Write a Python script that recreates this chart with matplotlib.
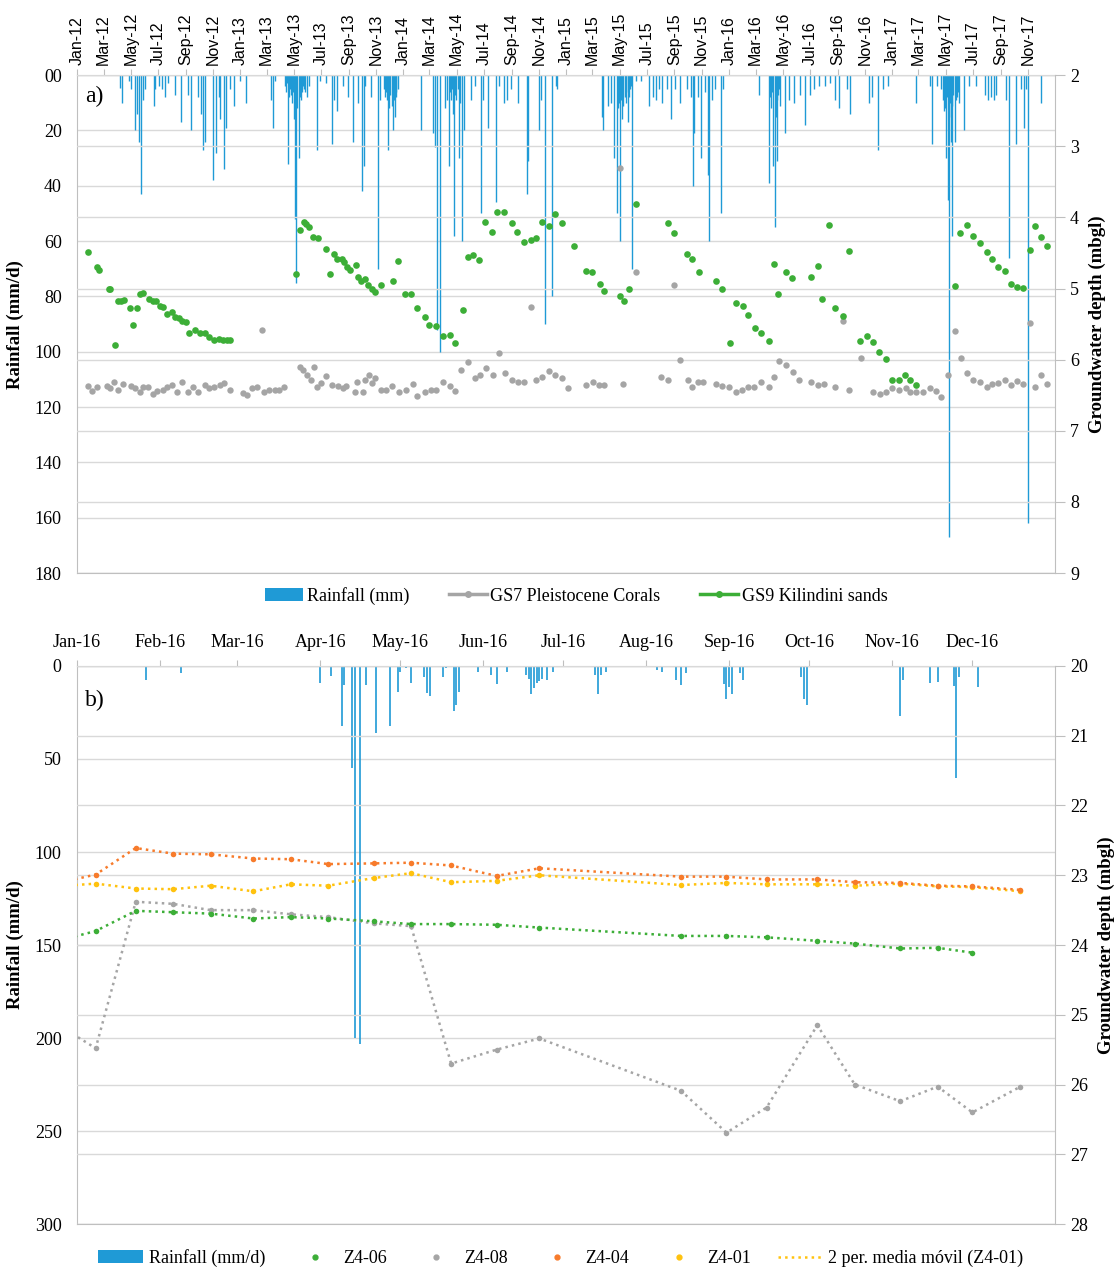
import numpy as np
import matplotlib
matplotlib.use('Agg')
import matplotlib.pyplot as plt
import matplotlib.dates as mdates
from matplotlib.lines import Line2D
from matplotlib.patches import Patch
from matplotlib.ticker import FuncFormatter, MultipleLocator
import datetime as dt

plt.rcParams['font.family'] = ['Liberation Serif', 'DejaVu Serif']

blue = '#1f9ad6'
green = '#3cae37'
grey = '#a5a5a5'
orange = '#f77b2b'
yellow = '#ffc20e'
gridc = '#d9d9d9'
spinec = '#bfbfbf'

# ---------------- panel a data (days since 2012-01-01) ----------------
rain_a_day = [96, 101, 116, 122, 130, 135, 138, 143, 148, 152, 172, 176, 183, 191, 198, 204,
              220, 233, 250, 256, 272, 278, 282, 288, 306, 312, 318, 321, 330, 334, 342, 351,
              365, 378,
              436, 440, 444, 466, 468, 470, 474, 476, 478, 480, 482, 484, 486, 489, 492, 494,
              497, 499, 502, 504, 506, 508, 511, 515, 521, 538, 544, 558, 572, 577, 582, 596,
              607, 618, 630, 638, 643, 646, 660, 674, 680, 688, 690, 693, 695, 698, 700, 702,
              705, 708, 710, 712, 714, 716, 720,
              771, 798, 803, 806, 813, 826, 829, 833, 836, 838, 840, 842, 845, 848, 850, 853,
              856, 858, 862, 868, 884, 892, 905, 909, 921, 940, 946, 958, 964, 972, 988, 1008,
              1012, 1035, 1040, 1048, 1064, 1073, 1076,
              1176, 1180, 1190, 1196, 1204, 1210, 1212, 1214, 1216, 1218, 1220, 1222, 1224,
              1228, 1230, 1234, 1236, 1238, 1240, 1242, 1245, 1252, 1265, 1282, 1290, 1298,
              1305, 1312, 1322, 1332, 1340, 1352, 1368, 1376, 1381, 1384, 1391, 1399, 1408,
              1415, 1417, 1424, 1430, 1444, 1448,
              1528, 1552, 1554, 1556, 1558, 1560, 1564, 1566, 1568, 1570, 1572, 1574, 1576,
              1586, 1596, 1608, 1620, 1632, 1644, 1652, 1664, 1676, 1688, 1700, 1708, 1726,
              1733, 1776, 1782, 1796, 1807, 1818,
              1881, 1912, 1917, 1927, 1936, 1940, 1944, 1946, 1948, 1950, 1952, 1954, 1955,
              1957, 1959, 1961, 1962, 1964, 1967, 1969, 1972, 1974, 1976, 1988, 2000, 2016,
              2036, 2042, 2048, 2056, 2060, 2082, 2089, 2104, 2116, 2122, 2127, 2132, 2161]
rain_a_mm = [4.5, 10, 2, 5, 20, 14, 24, 43, 9, 5, 11, 5, 4, 5, 8, 3,
             7, 17, 7, 20, 8, 14, 27, 24, 38, 28, 8, 16, 34, 19, 5, 11,
             2, 10,
             9, 19, 2, 4, 6, 3, 32, 8, 5, 7, 10, 6, 16, 52, 75, 12,
             30, 8, 9, 6, 4, 5, 6, 8, 4, 27, 2, 3, 25, 9, 13, 4,
             8, 24, 10, 42, 33, 4, 8, 70, 9, 5, 8, 6, 9, 27, 12, 7,
             11, 20, 9, 15, 6, 8, 5,
             20, 21, 26, 92, 100, 12, 9, 33, 6, 9, 5, 14, 58, 7, 9, 5,
             30, 10, 60, 20, 9, 4, 50, 9, 19, 46, 4, 10, 9, 5, 10, 43,
             31, 20, 9, 90, 80, 4, 5,
             15, 20, 11, 10, 30, 50, 12, 10, 6, 60, 9, 16, 11,
             8, 10, 17, 6, 8, 5, 4, 70, 2, 2, 11, 8, 9,
             5, 10, 5, 16, 5, 10, 5, 8, 40, 21, 8, 30, 6,
             36, 60, 9, 5, 50, 5,
             7, 39, 8, 12, 6, 33, 55, 15, 9, 31, 7, 5, 11,
             21, 9, 10, 7, 18, 7, 5, 4, 4, 3, 9, 12, 5,
             14, 10, 8, 27, 5, 4,
             10, 4, 25, 4, 5, 9, 13, 12, 30, 8, 45, 15, 167,
             10, 24, 11, 58, 7, 24, 9, 8, 6, 10, 20, 4, 4,
             7, 9, 8, 9, 7, 9, 66, 25, 5, 19, 5, 162, 10]

gs9_day = [24, 44, 49, 71, 75, 85, 91, 99, 105, 119, 126, 134, 141, 149, 162, 170, 178, 186,
           194, 202, 212, 220, 228, 236, 244, 252, 264, 276, 288, 296, 308, 318, 328, 336, 344,
           492, 500, 508, 514, 520, 530, 540, 558, 568, 575, 582, 593, 599, 606, 613, 625, 629,
           637, 646, 653, 661, 668, 681, 708, 720, 736, 749, 763, 779, 790, 805, 820, 836, 847,
           865, 876, 888, 900, 914, 930, 942, 958, 974, 987, 1001, 1017, 1029, 1043, 1057, 1071,
           1086, 1114, 1142, 1154, 1172, 1182, 1218, 1226, 1238, 1253, 1324, 1338, 1368, 1378,
           1394, 1432, 1446, 1464, 1476, 1492, 1504, 1520, 1532, 1550, 1562, 1572, 1588, 1602,
           1646, 1660, 1670, 1686, 1700, 1716, 1731, 1756, 1770, 1784, 1798, 1814, 1826, 1842,
           1856, 1866, 1880, 1967, 1979, 1994, 2008, 2023, 2039, 2050, 2065, 2079, 2093, 2107,
           2120, 2135, 2147, 2161, 2175]
gs9_depth = [4.49, 4.70, 4.74, 5.00, 5.00, 5.80, 5.18, 5.17, 5.16, 5.28, 5.51, 5.28, 5.08, 5.06,
             5.14, 5.18, 5.17, 5.24, 5.26, 5.36, 5.33, 5.40, 5.42, 5.45, 5.47, 5.63, 5.58, 5.63,
             5.62, 5.68, 5.72, 5.71, 5.72, 5.72, 5.72,
             4.80, 4.17, 4.06, 4.09, 4.13, 4.27, 4.29, 4.44, 4.79, 4.51, 4.59, 4.59, 4.62, 4.70,
             4.74, 4.67, 4.84, 4.90, 4.87, 4.95, 5.00, 5.05, 4.95, 4.90, 4.61, 5.08, 5.07, 5.28,
             5.40, 5.51, 5.52, 5.67, 5.66, 5.77, 5.30, 4.56, 4.53, 4.60, 4.07, 4.20, 3.93, 3.92,
             4.08, 4.20, 4.34, 4.32, 4.29, 4.06, 4.12, 3.95,
             4.08, 4.40, 4.75, 4.77, 4.93, 5.04, 5.10, 5.18, 5.00, 3.81, 4.08, 4.22, 4.51, 4.59,
             4.77, 4.90, 5.00, 5.77, 5.21, 5.25, 5.37, 5.56, 5.63, 5.74, 4.66, 5.08, 4.77, 4.85,
             4.84, 4.68, 5.14, 4.10, 5.28, 5.39, 4.47, 5.74, 5.67, 5.75, 5.89, 5.99, 6.29, 6.28,
             6.21, 6.29, 6.36, 4.97, 4.22, 4.10, 4.26, 4.36, 4.49, 4.59, 4.70, 4.75, 4.93, 4.98,
             4.99, 4.46, 4.12, 4.28, 4.40]

gs7_day = [24, 34, 45, 67, 75, 83, 93, 103, 122, 131, 141, 149, 160, 170, 180, 192, 202, 212,
           224, 236, 248, 260, 272, 286, 296, 308, 320, 330, 344, 372, 382, 392, 403, 414, 419,
           430, 443, 452, 464, 500, 506, 516, 524, 532, 538, 548, 558, 572, 584, 596, 604, 624,
           628, 640, 646, 654, 662, 667, 681, 693, 707, 721, 737, 753, 763, 779, 793, 805, 820,
           836, 847, 861, 877, 891, 903, 917, 932, 946, 960, 976, 989, 1002, 1017, 1029, 1043,
           1057, 1071, 1086, 1100, 1142, 1156, 1170, 1182, 1218, 1224, 1253, 1310, 1324, 1338,
           1352, 1370, 1378, 1392, 1404, 1432, 1446, 1462, 1476, 1490, 1504, 1518, 1532, 1550,
           1562, 1574, 1590, 1604, 1619, 1646, 1660, 1675, 1700, 1716, 1731, 1757, 1785, 1799,
           1813, 1827, 1842, 1857, 1867, 1881, 1897, 1911, 1925, 1937, 1953, 1967, 1981, 1995,
           2009, 2023, 2039, 2050, 2065, 2079, 2093, 2107, 2121, 2135, 2147, 2161, 2175]
gs7_depth = [6.37, 6.44, 6.38, 6.37, 6.40, 6.32, 6.43, 6.34, 6.37, 6.40, 6.45, 6.39, 6.38, 6.48,
             6.44, 6.43, 6.39, 6.36, 6.45, 6.32, 6.45, 6.39, 6.45, 6.35, 6.40, 6.38, 6.36, 6.33,
             6.43, 6.47, 6.49, 6.40, 6.38, 5.58, 6.46, 6.42, 6.43, 6.43, 6.38, 6.10, 6.15, 6.22,
             6.28, 6.11, 6.38, 6.33, 6.23, 6.36, 6.37, 6.40, 6.37, 6.45, 6.31, 6.45, 6.28, 6.22,
             6.33, 6.26, 6.43, 6.43, 6.37, 6.45, 6.42, 6.34, 6.51, 6.45, 6.42, 6.42, 6.31, 6.37,
             6.44, 6.15, 6.03, 6.26, 6.22, 6.12, 6.22, 5.91, 6.19, 6.28, 6.31, 6.31, 5.26, 6.28,
             6.24, 6.16, 6.22, 6.26, 6.40, 6.35, 6.31, 6.36, 6.36, 3.31, 6.34, 4.77, 6.25, 6.28,
             4.95, 6.00, 6.28, 6.38, 6.31, 6.31, 6.34, 6.37, 6.38, 6.46, 6.43, 6.38, 6.38, 6.32,
             6.38, 6.25, 6.02, 6.08, 6.17, 6.28, 6.31, 6.36, 6.34, 6.38, 5.45, 6.42, 5.98, 6.46,
             6.48, 6.46, 6.40, 6.43, 6.40, 6.46, 6.45, 6.45, 6.40, 6.44, 6.52, 6.21, 5.59, 5.98,
             6.19, 6.29, 6.32, 6.38, 6.34, 6.33, 6.29, 6.36, 6.30, 6.34, 5.48, 6.38, 6.22, 6.34]

# ---------------- panel b data (days since 2016-01-01) ----------------
rain_b_day = [26, 39, 91, 95, 99, 100, 103, 104, 106, 108, 112, 117, 120, 121, 122, 123, 125,
              130, 131, 132, 137, 138, 141, 142, 143, 150, 155, 157, 161, 168, 169, 170, 171,
              172, 173, 174, 176, 178, 194, 195, 196, 198, 217, 219, 224, 226, 228, 242, 243,
              244, 245, 248, 249, 271, 272, 273, 276, 308, 309, 319, 322, 328, 329, 330, 337]
rain_b_mm = [7.5, 3.9, 9.3, 5.6, 32, 10, 55, 200, 203, 10, 36, 32, 13.8, 3.4, 0.7, 1, 9,
             6, 14.6, 16, 6, 1, 24, 21, 14, 3.5, 5, 9.6, 3.5, 5, 7, 15, 12,
             9.3, 8, 7, 7.5, 3.5, 5, 15, 5, 3.5, 2, 3.5, 7.5, 10, 4, 9.6, 18,
             11.4, 15, 4, 7.5, 6, 18, 21, 0.7, 27, 7.5, 9, 8.5, 10.7, 60, 6, 11.5]

visit_day = [-8, 7, 22, 36, 50, 66, 80, 94, 111, 125, 140, 157, 173, 226, 243, 258, 277, 291,
             308, 322, 335, 353]
z4_06 = [23.95, 23.80, 23.51, 23.53, 23.55, 23.62, 23.60, 23.62, 23.66, 23.70, 23.70, 23.71,
         23.75, 23.87, 23.87, 23.89, 23.94, 23.98, 24.05, 24.04, 24.11, np.nan]
z4_08 = [25.12, 25.48, 23.38, 23.41, 23.50, 23.50, 23.56, 23.60, 23.69, 23.73, 25.70, 25.50,
         25.34, 26.09, 26.69, 26.33, 25.15, 26.00, 26.24, 26.03, 26.40, 26.03]
z4_04 = [23.12, 22.99, 22.61, 22.69, 22.70, 22.76, 22.77, 22.84, 22.83, 22.82, 22.86, 23.01,
         22.90, 23.02, 23.02, 23.06, 23.06, 23.10, 23.11, 23.15, 23.16, 23.21]
z4_01 = [23.16, 23.12, 23.19, 23.20, 23.15, 23.23, 23.13, 23.15, 23.04, 22.97, 23.10, 23.08,
         23.00, 23.14, 23.11, 23.13, 23.13, 23.15, 23.12, 23.16, 23.17, 23.23]

base_a = mdates.date2num(dt.datetime(2012, 1, 1))
base_b = mdates.date2num(dt.datetime(2016, 1, 1))


def style_axes(ax, ax2):
    for s in ['top', 'bottom', 'left']:
        ax.spines[s].set_color(spinec)
        ax2.spines[s].set_visible(False)
    ax.spines['right'].set_visible(False)
    ax2.spines['right'].set_color(spinec)
    ax.grid(axis='y', color=gridc, lw=1)
    ax2.grid(axis='y', color=gridc, lw=1)
    ax.set_axisbelow(True)
    ax2.set_axisbelow(True)
    ax.tick_params(axis='y', length=0, labelsize=13, pad=11)
    ax2.tick_params(axis='y', direction='out', length=7, color=spinec, labelsize=13, pad=4)
    ax.set_ylabel('Rainfall (mm/d)', fontweight='bold', fontsize=13.5, labelpad=8)
    ax2.set_ylabel('Groundwater depth (mbgl)', fontweight='bold', fontsize=13.5, labelpad=7)


fig = plt.figure(figsize=(11.15, 12.7), dpi=100)

# ---------------- panel a ----------------
axa = fig.add_axes([0.069, 0.5488, 0.877, 0.392])
axa.vlines(base_a + np.array(rain_a_day), 0, rain_a_mm, color=blue, lw=1.0)
axa.set_ylim(180, 0)
axa.yaxis.set_major_locator(MultipleLocator(20))
axa.yaxis.set_major_formatter(FuncFormatter(lambda v, p: '00' if v == 0 else '%d' % v))
axa.xaxis_date()
axa.set_xlim(dt.datetime(2012, 1, 1), dt.datetime(2017, 12, 31, 12))
axa2 = axa.twinx()
axa2.plot(base_a + np.array(gs7_day), gs7_depth, 'o', ms=4.6, color=grey, mec='none')
axa2.plot(base_a + np.array(gs9_day), gs9_depth, 'o', ms=4.8, color=green, mec='none')
axa2.set_ylim(9, 2)
axa2.yaxis.set_major_locator(MultipleLocator(1))
style_axes(axa, axa2)
axa.xaxis.tick_top()
axa.xaxis.set_major_locator(mdates.MonthLocator(bymonth=[1, 3, 5, 7, 9, 11]))
axa.xaxis.set_major_formatter(mdates.DateFormatter('%b-%y'))
axa.tick_params(axis='x', direction='out', length=4, color=spinec, labelsize=11.5,
                labelrotation=90, pad=3)
for lab in axa.get_xticklabels():
    lab.set_fontfamily('Liberation Sans')
axa.text(0.008, 0.978, 'a)', transform=axa.transAxes, ha='left', va='top', fontsize=17)

fig.legend(handles=[Patch(facecolor=blue),
                    Line2D([0], [0], color=grey, lw=2.5, marker='o', ms=4),
                    Line2D([0], [0], color=green, lw=2.5, marker='o', ms=4)],
           labels=['Rainfall (mm)', 'GS7 Pleistocene Corals', 'GS9 Kilindini sands'],
           loc='center', bbox_to_anchor=(0.517, 0.531), ncol=3, frameon=False, fontsize=13,
           handlelength=2.1, handletextpad=0.2, columnspacing=2.2)

# ---------------- panel b ----------------
axb = fig.add_axes([0.069, 0.0362, 0.877, 0.4394])
axb.vlines(base_b + np.array(rain_b_day), 0, rain_b_mm, color=blue, lw=1.2)
axb.set_ylim(300, 0)
axb.yaxis.set_major_locator(MultipleLocator(50))
axb.xaxis_date()
axb.set_xlim(dt.datetime(2016, 1, 1), dt.datetime(2016, 12, 31, 20))
axb2 = axb.twinx()
xv = base_b + np.array(visit_day)
for vals, c in [(z4_08, grey), (z4_06, green), (z4_01, yellow), (z4_04, orange)]:
    axb2.plot(xv, vals, ls=':', lw=1.8, color=c)
    axb2.plot(xv, vals, 'o', ms=4, color=c, mec='none')
axb2.set_ylim(28, 20)
axb2.yaxis.set_major_locator(MultipleLocator(1))
style_axes(axb, axb2)
axb.xaxis.tick_top()
axb.xaxis.set_major_locator(mdates.MonthLocator())
axb.xaxis.set_major_formatter(mdates.DateFormatter('%b-%y'))
axb.tick_params(axis='x', direction='out', length=4, color=spinec, labelsize=13, pad=7)
axb.text(0.008, 0.958, 'b)', transform=axb.transAxes, ha='left', va='top', fontsize=17)

fig.legend(handles=[Patch(facecolor=blue),
                    Line2D([0], [0], ls='none', marker='o', ms=3.5, color=green),
                    Line2D([0], [0], ls='none', marker='o', ms=3.5, color=grey),
                    Line2D([0], [0], ls='none', marker='o', ms=3.5, color=orange),
                    Line2D([0], [0], ls='none', marker='o', ms=3.5, color=yellow),
                    Line2D([0], [0], ls=':', lw=1.8, color=yellow)],
           labels=['Rainfall (mm/d)', 'Z4-06', 'Z4-08', 'Z4-04', 'Z4-01',
                   '2 per. media móvil (Z4-01)'],
           loc='center', bbox_to_anchor=(0.503, 0.0094), ncol=6, frameon=False, fontsize=13,
           handlelength=2.5, handletextpad=0.3, columnspacing=1.5)

fig.savefig('out.png', dpi=100)
